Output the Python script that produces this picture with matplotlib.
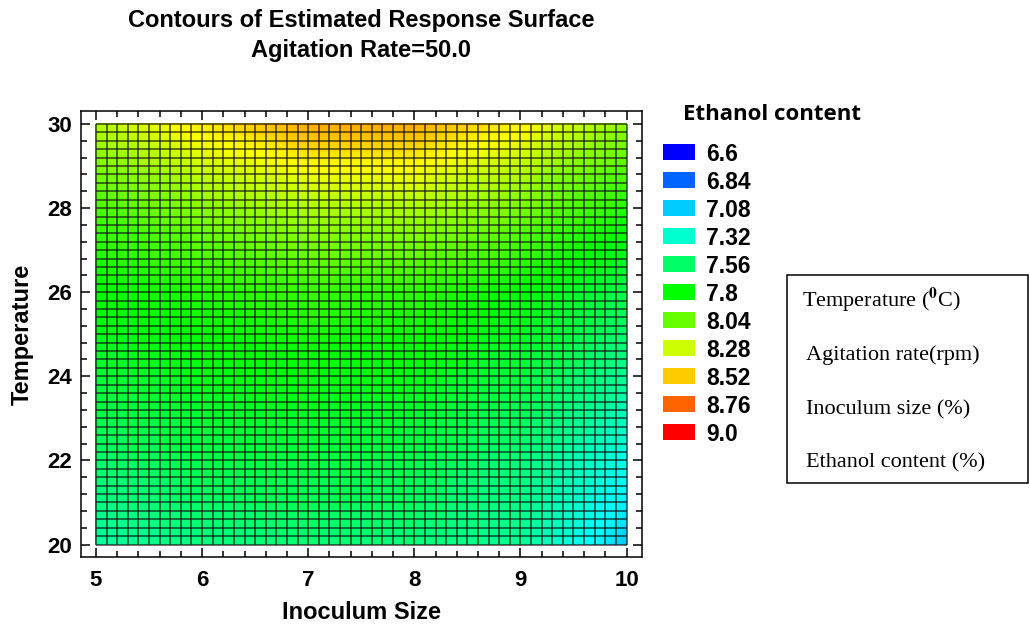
import numpy as np
import matplotlib; matplotlib.use("Agg")
import matplotlib.pyplot as plt
from matplotlib.colors import ListedColormap, Normalize, hsv_to_rgb
from matplotlib.patches import Rectangle
from matplotlib.ticker import MultipleLocator

# values (estimated ethanol content)
inoculum = [5, 6, 7, 8, 9, 10]
temperature = [20, 22, 24, 26, 28, 30]
ethanol = [
    [7.42, 7.50, 7.53, 7.52, 7.45, 7.07],   # T=20
    [7.55, 7.62, 7.65, 7.63, 7.52, 7.25],   # T=22
    [7.68, 7.75, 7.78, 7.76, 7.66, 7.45],   # T=24
    [7.80, 7.88, 7.92, 7.90, 7.80, 7.62],   # T=26
    [7.97, 8.12, 8.20, 8.20, 8.08, 7.88],   # T=28
    [8.22, 8.45, 8.60, 8.60, 8.42, 8.13],   # T=30
]
levels = [6.6, 6.84, 7.08, 7.32, 7.56, 7.8, 8.04, 8.28, 8.52, 8.76, 9.0]
level_labels = ["6.6", "6.84", "7.08", "7.32", "7.56", "7.8", "8.04", "8.28", "8.52", "8.76", "9.0"]
box_lines = ["Temperature ($^{\\mathbf{0}}$C)", "Agitation rate(rpm)", "Inoculum size (%)", "Ethanol content (%)"]

plt.rcParams['mathtext.fontset'] = 'stix'
sans = 'Liberation Sans'
serif = 'Liberation Serif'

W, H = 1030, 624
fig = plt.figure(figsize=(W/100, H/100), dpi=100)

# hue colormap blue -> red
hues = np.linspace(2/3, 0, 256)
hsv = np.stack([hues, np.ones_like(hues), np.ones_like(hues)], axis=1)
cmap = ListedColormap(hsv_to_rgb(hsv))
norm = Normalize(vmin=6.6, vmax=9.0)

ax = fig.add_axes([81/W, 1-557/H, (642-81)/W, (557-111)/H])
X, Y = np.meshgrid(inoculum, temperature)
ax.contourf(X, Y, np.array(ethanol), levels=np.linspace(6.6, 9.0, 241),
            cmap=cmap, norm=norm, antialiased=False)

# cell mesh
ax.vlines(np.linspace(5, 10, 51), 20, 30, color='#111111', lw=1.1, alpha=0.78)
ax.hlines(np.linspace(20, 30, 51), 5, 10, color='#111111', lw=1.1, alpha=0.78)

ax.set_xlim(4.859, 10.146)
ax.set_ylim(19.703, 30.309)
ax.xaxis.set_major_locator(MultipleLocator(1))
ax.xaxis.set_minor_locator(MultipleLocator(0.2))
ax.yaxis.set_major_locator(MultipleLocator(2))
ax.yaxis.set_minor_locator(MultipleLocator(0.4))
ax.tick_params(which='both', direction='in', top=True, right=True, width=1.1)
ax.tick_params(which='major', length=6.5)
ax.tick_params(which='minor', length=4)
ax.tick_params(axis='x', pad=9)
ax.tick_params(axis='y', pad=6.5)
for s in ax.spines.values():
    s.set_linewidth(1.1)
for lab in ax.get_xticklabels() + ax.get_yticklabels():
    lab.set_fontfamily(sans)
    lab.set_fontweight('bold')
    lab.set_fontsize(16)

ax.set_xlabel("Inoculum Size", fontfamily=sans, fontweight='bold', fontsize=17)
ax.set_ylabel("Temperature", fontfamily=sans, fontweight='bold', fontsize=17)
ax.xaxis.set_label_coords(0.5, -0.098)
ax.yaxis.set_label_coords(-0.085, 0.5)

fig.text(361/W, 1-27/H, "Contours of Estimated Response Surface", ha='center',
         va='baseline', fontfamily=sans, fontweight='bold', fontsize=17)
fig.text(361/W, 1-57/H, "Agitation Rate=50.0", ha='center',
         va='baseline', fontfamily=sans, fontweight='bold', fontsize=17)

# legend
fig.text(683/W, 1-120/H, "Ethanol content", ha='left', va='baseline',
         fontfamily='Open Sans', fontweight='bold', fontsize=16)
for i, (lv, lb) in enumerate(zip(levels, level_labels)):
    yc = 152 + 28*i
    fig.add_artist(Rectangle((663/W, 1-(yc+8)/H), 32/W, 16/H, transform=fig.transFigure,
                             facecolor=cmap(norm(lv)), edgecolor='none'))
    fig.text(706/W, 1-yc/H, lb, ha='left', va='center_baseline',
             fontfamily=sans, fontweight='bold', fontsize=16.5)

# info box
fig.add_artist(Rectangle((787/W, 1-483/H), (1028-787)/W, (483-275)/H, transform=fig.transFigure,
                         facecolor='none', edgecolor='black', lw=1.1))
for i, t in enumerate(box_lines):
    fig.text((802 if i == 0 else 806)/W, 1-(307+53.5*i)/H, t, ha='left', va='baseline',
             fontfamily=serif, fontsize=16)

fig.savefig("out.png", dpi=100)
